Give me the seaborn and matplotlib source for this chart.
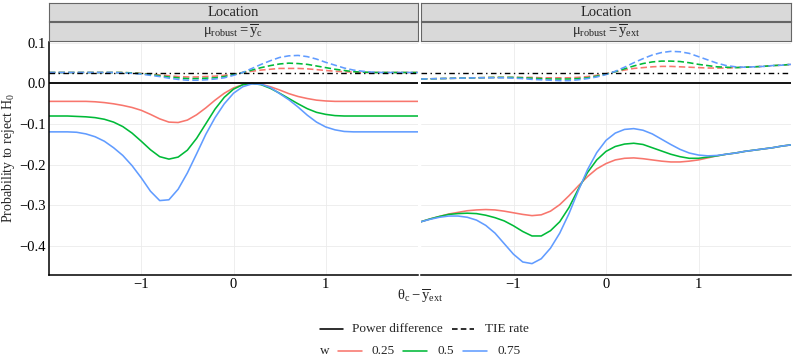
import matplotlib
matplotlib.use("Agg")
import matplotlib.pyplot as plt
from matplotlib.lines import Line2D
import pandas as pd
import seaborn as sns

# --- DATA (x step 0.1) ---
x_grid = [-2.0, -1.9, -1.8, -1.7, -1.6, -1.5, -1.4, -1.3, -1.2, -1.1,
          -1.0, -0.9, -0.8, -0.7, -0.6, -0.5, -0.4, -0.3, -0.2, -0.1,
          0.0, 0.1, 0.2, 0.3, 0.4, 0.5, 0.6, 0.7, 0.8, 0.9,
          1.0, 1.1, 1.2, 1.3, 1.4, 1.5, 1.6, 1.7, 1.8, 1.9, 2.0]

w_levels = ["0.25", "0.5", "0.75"]
measures = ["Power difference", "TIE rate"]
panel_labels = [r"$\mathrm{μ}_{\mathrm{robust}} = \overline{\mathrm{y}}_{\mathrm{c}}$",
                r"$\mathrm{μ}_{\mathrm{robust}} = \overline{\mathrm{y}}_{\mathrm{ext}}$"]

# panel 1: mu_robust = ybar_c
pd_c_025 = [-0.044, -0.044, -0.044, -0.044, -0.044, -0.045, -0.047, -0.050, -0.054, -0.059,
            -0.066, -0.076, -0.087, -0.095, -0.096, -0.090, -0.077, -0.060, -0.041, -0.024,
            -0.011, -0.003, 0.000, -0.002, -0.008, -0.016, -0.025, -0.032, -0.037, -0.041,
            -0.043, -0.044, -0.044, -0.044, -0.044, -0.044, -0.044, -0.044, -0.044, -0.044, -0.044]
pd_c_050 = [-0.080, -0.080, -0.080, -0.081, -0.082, -0.084, -0.088, -0.095, -0.106, -0.122,
            -0.142, -0.163, -0.180, -0.186, -0.181, -0.164, -0.135, -0.099, -0.063, -0.034,
            -0.014, -0.003, 0.000, -0.003, -0.012, -0.024, -0.037, -0.050, -0.062, -0.071,
            -0.076, -0.079, -0.080, -0.080, -0.080, -0.080, -0.080, -0.080, -0.080, -0.080, -0.080]
pd_c_075 = [-0.119, -0.119, -0.119, -0.120, -0.124, -0.131, -0.142, -0.158, -0.177, -0.202,
            -0.232, -0.265, -0.288, -0.286, -0.260, -0.220, -0.173, -0.125, -0.084, -0.050,
            -0.024, -0.008, -0.001, -0.002, -0.010, -0.025, -0.040, -0.058, -0.078, -0.095,
            -0.107, -0.114, -0.118, -0.119, -0.119, -0.119, -0.119, -0.119, -0.119, -0.119, -0.119]
tie_c_025 = [0.027, 0.027, 0.027, 0.027, 0.027, 0.027, 0.027, 0.027, 0.027, 0.026,
             0.025, 0.023, 0.021, 0.019, 0.017, 0.016, 0.016, 0.017, 0.018, 0.020,
             0.023, 0.027, 0.030, 0.033, 0.035, 0.037, 0.037, 0.037, 0.036, 0.034,
             0.032, 0.030, 0.029, 0.028, 0.027, 0.027, 0.027, 0.027, 0.027, 0.027, 0.027]
tie_c_050 = [0.027, 0.027, 0.027, 0.027, 0.027, 0.027, 0.027, 0.027, 0.027, 0.026,
             0.024, 0.022, 0.019, 0.016, 0.014, 0.012, 0.012, 0.013, 0.014, 0.017,
             0.022, 0.027, 0.033, 0.039, 0.044, 0.048, 0.050, 0.049, 0.047, 0.043,
             0.039, 0.035, 0.032, 0.029, 0.028, 0.027, 0.027, 0.027, 0.027, 0.027, 0.027]
tie_c_075 = [0.027, 0.027, 0.027, 0.027, 0.027, 0.027, 0.027, 0.027, 0.026, 0.025,
             0.023, 0.020, 0.017, 0.013, 0.010, 0.008, 0.008, 0.009, 0.011, 0.014,
             0.020, 0.027, 0.037, 0.047, 0.056, 0.064, 0.068, 0.069, 0.066, 0.060,
             0.052, 0.045, 0.038, 0.033, 0.030, 0.028, 0.027, 0.027, 0.027, 0.027, 0.027]

# panel 2: mu_robust = ybar_ext
pd_ext_025 = [-0.340, -0.333, -0.327, -0.321, -0.317, -0.313, -0.311, -0.310, -0.311, -0.314,
              -0.318, -0.322, -0.325, -0.323, -0.314, -0.298, -0.276, -0.252, -0.229, -0.210,
              -0.197, -0.188, -0.184, -0.183, -0.185, -0.188, -0.191, -0.193, -0.193, -0.191,
              -0.188, -0.183, -0.178, -0.174, -0.171, -0.167, -0.164, -0.161, -0.158, -0.154, -0.151]
pd_ext_050 = [-0.340, -0.333, -0.327, -0.322, -0.320, -0.319, -0.320, -0.324, -0.330, -0.338,
              -0.350, -0.364, -0.375, -0.375, -0.362, -0.340, -0.305, -0.260, -0.219, -0.188,
              -0.167, -0.155, -0.149, -0.147, -0.150, -0.158, -0.166, -0.174, -0.180, -0.184,
              -0.184, -0.181, -0.178, -0.174, -0.171, -0.167, -0.164, -0.161, -0.158, -0.154, -0.151]
pd_ext_075 = [-0.340, -0.334, -0.329, -0.326, -0.326, -0.329, -0.336, -0.349, -0.368, -0.394,
              -0.420, -0.439, -0.443, -0.431, -0.405, -0.368, -0.320, -0.264, -0.212, -0.170,
              -0.140, -0.122, -0.113, -0.111, -0.115, -0.124, -0.137, -0.150, -0.162, -0.171,
              -0.176, -0.178, -0.177, -0.174, -0.171, -0.167, -0.164, -0.161, -0.158, -0.154, -0.151]
tie_ext_025 = [0.011, 0.0115, 0.012, 0.0125, 0.013, 0.0135, 0.014, 0.0145, 0.015, 0.015,
               0.015, 0.015, 0.015, 0.014, 0.014, 0.014, 0.014, 0.015, 0.017, 0.020,
               0.024, 0.029, 0.033, 0.037, 0.039, 0.041, 0.042, 0.042, 0.041, 0.040,
               0.039, 0.038, 0.038, 0.038, 0.039, 0.040, 0.041, 0.042, 0.044, 0.045, 0.047]
tie_ext_050 = [0.011, 0.0115, 0.012, 0.0125, 0.013, 0.0135, 0.014, 0.0145, 0.015, 0.015,
               0.015, 0.014, 0.013, 0.012, 0.011, 0.011, 0.011, 0.012, 0.014, 0.018,
               0.023, 0.029, 0.036, 0.043, 0.049, 0.053, 0.055, 0.055, 0.054, 0.051,
               0.047, 0.044, 0.041, 0.040, 0.039, 0.040, 0.041, 0.042, 0.044, 0.045, 0.047]
tie_ext_075 = [0.011, 0.0115, 0.012, 0.0125, 0.013, 0.0135, 0.014, 0.014, 0.014, 0.014,
               0.013, 0.012, 0.010, 0.009, 0.008, 0.007, 0.007, 0.009, 0.012, 0.016,
               0.022, 0.030, 0.040, 0.051, 0.061, 0.070, 0.076, 0.079, 0.078, 0.074,
               0.066, 0.058, 0.050, 0.044, 0.041, 0.040, 0.041, 0.042, 0.044, 0.045, 0.047]

TIE_TARGET = 0.025

# --- STYLE ---
W, H = 793, 360
COLORS = ["#F8766D", "#00BA38", "#619CFF"]
SERIF = "Liberation Serif"


def px_box(x0, y0, x1, y1):
    return [x0 / W, 1 - y1 / H, (x1 - x0) / W, (y1 - y0) / H]


def build_frame():
    series = {
        0: {"Power difference": [pd_c_025, pd_c_050, pd_c_075],
            "TIE rate": [tie_c_025, tie_c_050, tie_c_075]},
        1: {"Power difference": [pd_ext_025, pd_ext_050, pd_ext_075],
            "TIE rate": [tie_ext_025, tie_ext_050, tie_ext_075]},
    }
    frames = []
    for panel, by_measure in series.items():
        for measure, arrays in by_measure.items():
            for w, vals in zip(w_levels, arrays):
                frames.append(pd.DataFrame({"x": x_grid, "value": vals, "w": w,
                                            "measure": measure, "panel": panel}))
    return pd.concat(frames, ignore_index=True)


sns.set_style("white")
plt.rcParams["font.family"] = [SERIF, "DejaVu Serif"]
plt.rcParams["mathtext.fontset"] = "custom"
plt.rcParams["mathtext.rm"] = SERIF
plt.rcParams["mathtext.it"] = SERIF + ":italic"
plt.rcParams["mathtext.bf"] = SERIF + ":bold"

df = build_frame()
fig = plt.figure(figsize=(W / 100, H / 100), dpi=100)

panel_boxes = [(49, 418), (421, 791)]
for i, (x0, x1) in enumerate(panel_boxes):
    ax = fig.add_axes(px_box(x0, 42, x1, 275))
    sub = df[df["panel"] == i]
    sns.lineplot(data=sub, x="x", y="value", hue="w", style="measure",
                 hue_order=w_levels, style_order=measures, palette=COLORS,
                 dashes={"Power difference": "", "TIE rate": (4, 2)},
                 linewidth=1.15, estimator=None, legend=False, ax=ax, zorder=2)
    ax.axhline(0, color="black", lw=1.3, zorder=3)
    ax.axhline(TIE_TARGET, color="black", lw=1.0, ls=(0, (4, 2.5, 1, 2.5)), zorder=3)

    ax.set_xlim(-2, 2)
    ax.set_ylim(-0.471, 0.102)
    ax.set_xticks([-1, 0, 1])
    ax.set_yticks([0.1, 0.0, -0.1, -0.2, -0.3, -0.4])
    ax.grid(True, color="#EBEBEB", lw=0.6)
    ax.set_axisbelow(True)
    ax.set_xlabel("")
    ax.set_ylabel("")
    ax.tick_params(length=0, labelsize=10.5, pad=2.5, colors="black")
    for s in ["top", "right"]:
        ax.spines[s].set_visible(False)
    ax.spines["bottom"].set_color("black")
    ax.spines["bottom"].set_linewidth(1.1)
    if i == 0:
        ax.spines["left"].set_color("black")
        ax.spines["left"].set_linewidth(1.1)
        ax.set_yticklabels(["0.1", "0.0", "\u22120.1", "\u22120.2", "\u22120.3", "\u22120.4"])
    else:
        ax.spines["left"].set_visible(False)
        ax.set_yticklabels([])

    # facet strips
    for (y0, y1), label in [((3, 21), "Location"), ((22, 41), panel_labels[i])]:
        sax = fig.add_axes(px_box(x0, y0, x1, y1))
        sax.set_facecolor("#D9D9D9")
        sax.set_xticks([])
        sax.set_yticks([])
        for s in sax.spines.values():
            s.set_color("#666666")
            s.set_linewidth(0.8)
        sax.text(0.5, 0.48, label, ha="center", va="center", fontsize=10.5,
                 transform=sax.transAxes)

# axis titles
fig.text(420 / W, 1 - 297 / H, r"$\mathrm{θ}_{\mathrm{c}} - \overline{\mathrm{y}}_{\mathrm{ext}}$",
         ha="center", va="center", fontsize=10.5)
fig.text(9 / W, 1 - 158 / H, r"Probability to reject $\mathrm{H}_{0}$",
         ha="center", va="center", rotation=90, fontsize=10)


# legend, drawn by hand to match the two-row layout
def legend_key(xa, xb, y, color, dashed=False):
    ls = (0, (3.5, 2)) if dashed else "-"
    fig.add_artist(Line2D([xa / W, xb / W], [1 - y / H, 1 - y / H], color=color,
                          lw=1.15, ls=ls, transform=fig.transFigure))


def legend_text(x, y, s):
    fig.text(x / W, 1 - y / H, s, ha="left", va="center", fontsize=9.5)


legend_key(320, 343, 329, "black")
legend_text(352, 329, measures[0])
legend_key(452, 474, 329, "black", dashed=True)
legend_text(485, 329, measures[1])

legend_text(320, 351, "w")
key_x = [(338, 362, 372), (403, 427, 437), (463, 487, 497)]
for (xa, xb, xt), w, c in zip(key_x, w_levels, COLORS):
    legend_key(xa, xb, 351, c)
    legend_text(xt, 351, w)

plt.savefig("out.png", dpi=100)
